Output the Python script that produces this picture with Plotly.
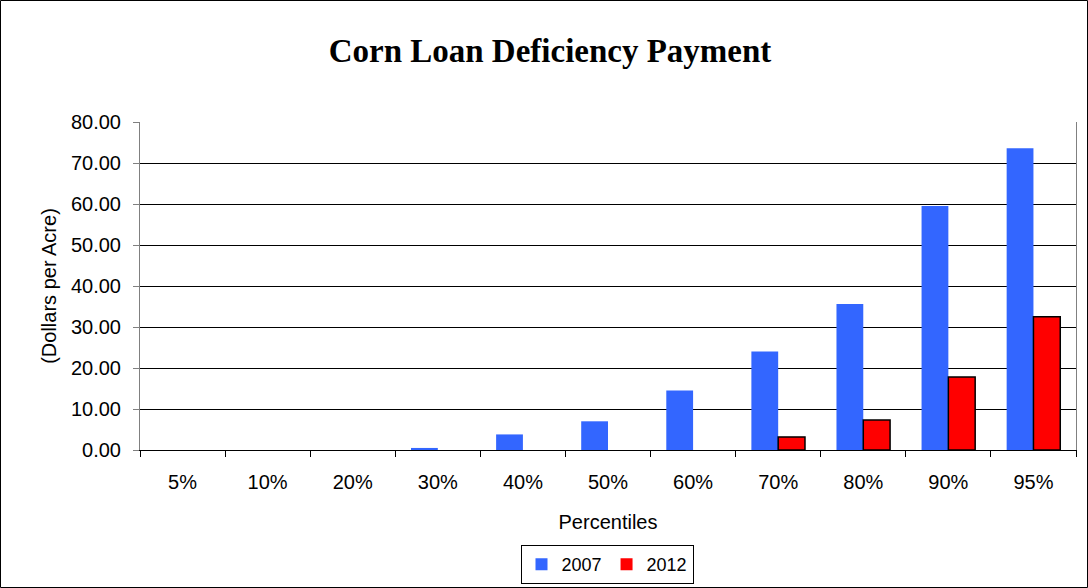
import plotly.graph_objects as go

categories = ["5%", "10%", "20%", "30%", "40%", "50%", "60%", "70%", "80%", "90%", "95%"]
values_2007 = [0.0, 0.0, 0.0, 0.5, 3.8, 7.0, 14.5, 24.0, 35.6, 59.5, 73.6]
values_2012 = [0.0, 0.0, 0.0, 0.0, 0.0, 0.0, 0.0, 3.2, 7.3, 17.8, 32.5]
y_ticks = [0, 10, 20, 30, 40, 50, 60, 70, 80]

W, H = 1088, 588
L, R, T, B = 140, 12, 122, 138
pw, ph = W - L - R, H - T - B

fig = go.Figure()
fig.add_trace(go.Bar(x=categories, y=values_2007, name="2007",
                     marker=dict(color="#3366FF", line=dict(width=0))))
fig.add_trace(go.Bar(x=categories, y=values_2012, name="2012",
                     marker=dict(color="#FF0000",
                                 line=dict(color="black",
                                           width=[0 if v == 0 else 1.5 for v in values_2012]))))

font = "Liberation Sans, Arial, sans-serif"
fs = 20
fig.update_layout(
    width=W, height=H,
    margin=dict(l=L, r=R, t=T, b=B, autoexpand=False),
    paper_bgcolor="white", plot_bgcolor="white",
    barmode="group", bargap=0.37, bargroupgap=0,
    font=dict(family=font, size=fs, color="black"),
    title=dict(text="<b>Corn Loan Deficiency Payment</b>",
               font=dict(family="Liberation Serif, Times New Roman, serif", size=33, color="black"),
               x=550 / W, xanchor="center", y=1 - 50 / H, yanchor="middle"),
    xaxis=dict(title=dict(text="Percentiles", font=dict(size=fs), standoff=22),
               automargin=False,
               tickson="boundaries", ticks="outside", ticklen=6, tickcolor="black",
               showline=True, linecolor="black", linewidth=1,
               tickfont=dict(size=fs), ticklabelstandoff=14),
    yaxis=dict(title=dict(text="(Dollars per Acre)", font=dict(size=fs), standoff=8),
               automargin=False,
               range=[0, 80], tickvals=y_ticks,
               ticktext=[f"{v:.2f}" for v in y_ticks],
               ticks="outside", ticklen=6, tickcolor="#808080",
               showgrid=True, gridcolor="black", gridwidth=1,
               showline=True, linecolor="#808080", linewidth=1, mirror=True,
               zeroline=False, tickfont=dict(size=fs), ticklabelstandoff=8),
    legend=dict(orientation="h", x=(607 - L) / pw, xanchor="center",
                y=(450 - 584) / ph, yanchor="bottom",
                bordercolor="black", borderwidth=1,
                font=dict(size=18), itemwidth=30, traceorder="normal"),
    shapes=[dict(type="rect", xref="paper", yref="paper",
                 x0=(0.5 - L) / pw, x1=(W - 0.5 - L) / pw,
                 y0=-(H - 0.5 - (T + ph)) / ph, y1=(T + ph - 0.5) / ph,
                 line=dict(color="black", width=1), fillcolor="rgba(0,0,0,0)")],
)

fig.write_html("out.html", config={"displayModeBar": False},
               post_script="document.body.style.margin='0';document.body.style.overflow='hidden';")
